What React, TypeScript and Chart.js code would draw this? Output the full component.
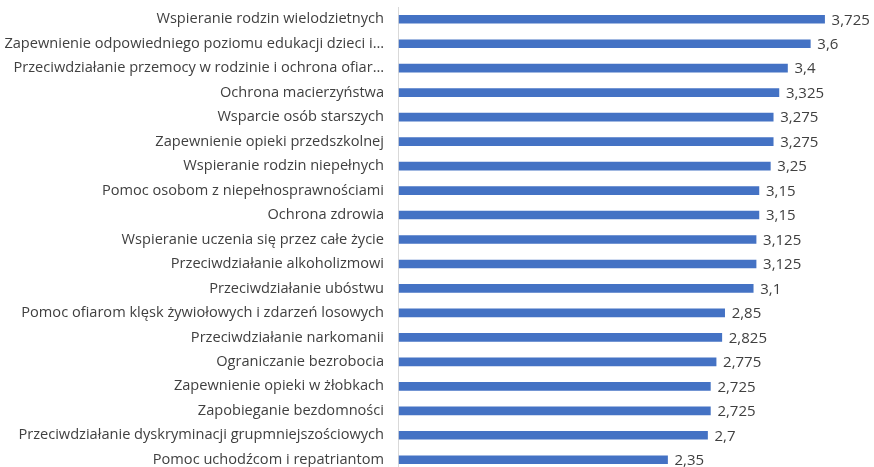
import React, { useEffect, useRef } from "react";
import { Chart, registerables } from "chart.js";

Chart.register(...registerables);

const categories: string[] = [
  "Wspieranie rodzin wielodzietnych",
  "Zapewnienie odpowiedniego poziomu edukacji dzieci i…",
  "Przeciwdziałanie przemocy w rodzinie i ochrona ofiar…",
  "Ochrona macierzyństwa",
  "Wsparcie osób starszych",
  "Zapewnienie opieki przedszkolnej",
  "Wspieranie rodzin niepełnych",
  "Pomoc osobom z niepełnosprawnościami",
  "Ochrona zdrowia",
  "Wspieranie uczenia się przez całe życie",
  "Przeciwdziałanie alkoholizmowi",
  "Przeciwdziałanie ubóstwu",
  "Pomoc ofiarom klęsk żywiołowych i zdarzeń losowych",
  "Przeciwdziałanie narkomanii",
  "Ograniczanie bezrobocia",
  "Zapewnienie opieki w żłobkach",
  "Zapobieganie bezdomności",
  "Przeciwdziałanie dyskryminacji grupmniejszościowych",
  "Pomoc uchodźcom i repatriantom",
];

const values: number[] = [
  3.725, 3.6, 3.4, 3.325, 3.275, 3.275, 3.25, 3.15, 3.15, 3.125, 3.125, 3.1,
  2.85, 2.825, 2.775, 2.725, 2.725, 2.7, 2.35,
];

const FONT = "'Open Sans', 'Noto Sans', sans-serif";
const TEXT = "#404040";

const fmt = (v: number) => String(v).replace(".", ",");

const dataLabels = {
  id: "dataLabels",
  afterDatasetsDraw(chart: any) {
    const ctx = chart.ctx;
    const meta = chart.getDatasetMeta(0);
    ctx.save();
    ctx.font = `15px ${FONT}`;
    ctx.fillStyle = TEXT;
    ctx.textAlign = "left";
    ctx.textBaseline = "middle";
    meta.data.forEach((bar: any, i: number) => {
      ctx.fillText(fmt(values[i]), bar.x + 7, bar.y + 1);
    });
    ctx.restore();
  },
};

export default function App() {
  const ref = useRef<HTMLCanvasElement>(null);
  useEffect(() => {
    if (!ref.current) return;
    const chart = new Chart(ref.current, {
      type: "bar",
      data: {
        labels: categories,
        datasets: [
          {
            data: values,
            backgroundColor: "#4472C4",
            borderWidth: 0,
            barThickness: 8,
          },
        ],
      },
      options: {
        indexAxis: "y",
        animation: false,
        responsive: false,
        maintainAspectRatio: false,
        layout: { padding: { top: 7, right: 18, left: 0, bottom: 0 } },
        plugins: {
          legend: { display: false },
          tooltip: { enabled: false },
        },
        scales: {
          x: {
            display: false,
            min: -0.01,
            max: 4,
          },
          y: {
            grid: { display: false, drawTicks: false },
            border: { display: true, color: "#d9d9d9", width: 1 },
            ticks: {
              color: TEXT,
              font: { family: FONT, size: 14.6 },
              padding: 14,
              autoSkip: false,
            },
            afterFit: (scale: any) => {
              scale.width = 398;
              scale.paddingTop = 0;
              scale.paddingBottom = 0;
            },
          },
        },
      },
      plugins: [dataLabels],
    });
    return () => chart.destroy();
  }, []);
  return (
    <div style={{ position: "fixed", top: 0, left: 0, width: 874, height: 472 }}>
      <canvas ref={ref} width={874} height={472} style={{ display: "block" }} />
    </div>
  );
}
